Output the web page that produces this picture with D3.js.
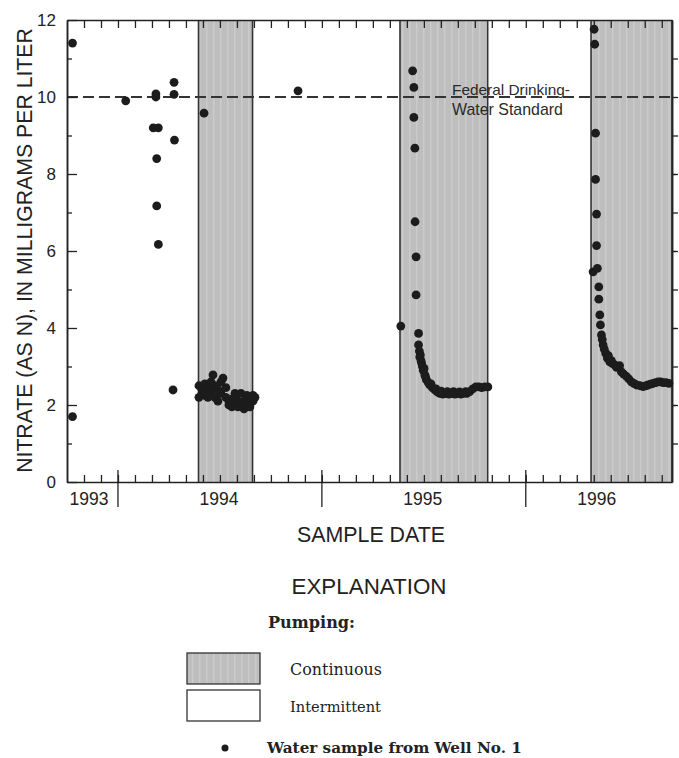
<!DOCTYPE html>
<html><head><meta charset="utf-8">
<script src="https://cdn.jsdelivr.net/npm/d3@7"></script>
<style>body{margin:0;background:#fff}</style>
</head><body>
<svg id="c" width="679" height="758"></svg>
<script>
// ---------- data (dates as decimal years) ----------
const yearLabels = ["1993", "1994", "1995", "1996"];
const yearLabelDates = [1993.858, 1994.495, 1995.495, 1996.348];
const yearBreaks = [1994, 1995, 1996];
const yTickValues = [0, 2, 4, 6, 8, 10, 12];
const pumpingStart = [1994.395, 1995.383, 1996.320];
const pumpingEnd = [1994.660, 1995.813, 1996.717];
const drinkingStandard = 10;

const samplesBefore1994Pumping = [
  [1993.777, 11.4], [1993.777, 1.7], [1994.038, 9.9],
  [1994.186, 10.08], [1994.186, 10.0], [1994.173, 9.2], [1994.198, 9.2],
  [1994.190, 8.4], [1994.190, 7.17], [1994.198, 6.17],
  [1994.275, 10.38], [1994.275, 10.07], [1994.277, 8.88], [1994.270, 2.39]
];
const samples1994Pumping = [
  [1994.422, 9.58],
  [1994.397, 2.5], [1994.397, 2.2], [1994.412, 2.4], [1994.412, 2.3],
  [1994.426, 2.55], [1994.426, 2.25], [1994.441, 2.45], [1994.441, 2.2],
  [1994.456, 2.35], [1994.456, 2.6], [1994.466, 2.78], [1994.475, 2.5],
  [1994.475, 2.2], [1994.490, 2.4], [1994.490, 2.1], [1994.505, 2.3],
  [1994.505, 2.6], [1994.515, 2.7], [1994.529, 2.2], [1994.529, 2.45],
  [1994.544, 2.1], [1994.544, 2.0], [1994.559, 1.95], [1994.559, 2.15],
  [1994.574, 2.0], [1994.574, 2.3], [1994.588, 1.95], [1994.588, 2.1],
  [1994.603, 2.0], [1994.603, 2.3], [1994.618, 1.9], [1994.618, 2.1],
  [1994.632, 2.0], [1994.632, 2.25], [1994.647, 2.1], [1994.647, 1.95],
  [1994.662, 2.25], [1994.662, 2.1], [1994.672, 2.2]
];
const samplesIntermittent1994 = [[1994.883, 10.16]];
const samples1995Pumping = [
  [1995.387, 4.05], [1995.445, 10.68], [1995.451, 10.25], [1995.451, 9.47],
  [1995.456, 8.67], [1995.457, 6.76], [1995.462, 5.85], [1995.462, 4.86],
  [1995.474, 3.86], [1995.474, 3.56], [1995.478, 3.4], [1995.480, 3.25],
  [1995.483, 3.3], [1995.486, 3.15], [1995.489, 3.09], [1995.493, 3.0],
  [1995.497, 2.9], [1995.501, 2.95], [1995.505, 2.78], [1995.509, 2.72],
  [1995.513, 2.65], [1995.522, 2.58], [1995.529, 2.52], [1995.535, 2.55],
  [1995.542, 2.45], [1995.554, 2.39], [1995.560, 2.42], [1995.566, 2.34],
  [1995.578, 2.3], [1995.585, 2.36], [1995.593, 2.28], [1995.608, 2.3],
  [1995.615, 2.35], [1995.623, 2.28], [1995.637, 2.3], [1995.645, 2.35],
  [1995.652, 2.28], [1995.667, 2.3], [1995.675, 2.34], [1995.681, 2.28],
  [1995.696, 2.3], [1995.705, 2.35], [1995.711, 2.3], [1995.725, 2.35],
  [1995.740, 2.42], [1995.755, 2.47], [1995.770, 2.47], [1995.784, 2.45],
  [1995.799, 2.47], [1995.814, 2.47]
];
const samples1996Pumping = [
  [1996.335, 11.76], [1996.338, 11.37], [1996.342, 9.06], [1996.342, 7.86],
  [1996.347, 6.96], [1996.347, 6.14], [1996.330, 5.46], [1996.351, 5.55],
  [1996.358, 5.07], [1996.358, 4.75], [1996.363, 4.34], [1996.366, 4.08],
  [1996.371, 3.82], [1996.375, 3.7], [1996.379, 3.56], [1996.385, 3.45],
  [1996.392, 3.34], [1996.400, 3.22], [1996.405, 3.28], [1996.412, 3.12],
  [1996.420, 3.15], [1996.424, 3.08], [1996.436, 3.04], [1996.445, 2.98],
  [1996.452, 3.0], [1996.460, 3.02], [1996.469, 2.86], [1996.480, 2.8],
  [1996.494, 2.74], [1996.505, 2.68], [1996.518, 2.6], [1996.530, 2.56],
  [1996.543, 2.52], [1996.560, 2.5], [1996.575, 2.48], [1996.590, 2.5],
  [1996.600, 2.52], [1996.612, 2.54], [1996.624, 2.56], [1996.637, 2.58],
  [1996.649, 2.6], [1996.661, 2.6], [1996.673, 2.58], [1996.688, 2.58],
  [1996.702, 2.56]
];

// ---------- layout ----------
const svg = d3.select("#c");
const L = 67, R = 672, T = 20, B = 482;
const x = d3.scaleLinear().domain([1993.75, 1996.717]).range([L, R]);
const y = d3.scaleLinear().domain([0, 12]).range([B, T]);
const ink = "#222";

const defs = svg.append("defs");
const pat = defs.append("pattern").attr("id", "shade").attr("patternUnits", "userSpaceOnUse")
  .attr("width", 7).attr("height", 7);
pat.append("rect").attr("width", 7).attr("height", 7).attr("fill", "#bebebe");
pat.append("rect").attr("x", 3).attr("width", 1.5).attr("height", 7).attr("fill", "#cbcbcb");

function fit(sel, w) {
  const l = sel.node().getComputedTextLength();
  const f = parseFloat(sel.attr("font-size"));
  sel.attr("font-size", (f * w / l).toFixed(2));
  return sel;
}

// pumping periods
svg.selectAll("rect.pump").data(pumpingStart).join("rect").attr("class", "pump")
  .attr("x", (d) => x(d)).attr("y", y(12))
  .attr("width", (d, i) => x(pumpingEnd[i]) - x(d)).attr("height", y(0) - y(12))
  .attr("fill", "url(#shade)");
svg.selectAll("line.pumpEdge").data(pumpingStart.concat(pumpingEnd)).join("line").attr("class", "pumpEdge")
  .attr("x1", (d) => x(d)).attr("x2", (d) => x(d)).attr("y1", y(12)).attr("y2", y(0))
  .attr("stroke", "#333").attr("stroke-width", 1.6);

// drinking water standard
svg.append("line").attr("x1", L).attr("x2", R).attr("y1", y(drinkingStandard)).attr("y2", y(drinkingStandard))
  .attr("stroke", "#333").attr("stroke-width", 2).attr("stroke-dasharray", "11,5");

// axes
const months = d3.range(10, 45).map((m) => 1993 + m / 12).filter((t) => t > 1993.76 && t < 1996.71);
function styleAxis(g) {
  g.select(".domain").attr("stroke", ink).attr("stroke-width", 1.5);
  g.selectAll(".tick line").attr("stroke", ink).attr("stroke-width", 1.3);
}
svg.append("g").attr("transform", `translate(0,${B})`)
  .call(d3.axisBottom(x).tickValues(months).tickSize(-7).tickSizeOuter(0).tickFormat(""))
  .call(styleAxis);
svg.append("g").attr("transform", `translate(0,${T})`)
  .call(d3.axisTop(x).tickValues(months).tickSize(-8).tickSizeOuter(0).tickFormat(""))
  .call(styleAxis);
svg.selectAll("line.yearTick").data(yearBreaks).join("line").attr("class", "yearTick")
  .attr("x1", (d) => x(d)).attr("x2", (d) => x(d)).attr("y1", B - 12).attr("y2", B + 25)
  .attr("stroke", ink).attr("stroke-width", 1.3);

const gl = svg.append("g").attr("transform", `translate(${L},0)`)
  .call(d3.axisLeft(y).tickValues(yTickValues).tickSize(-10).tickSizeOuter(0).tickPadding(11))
  .call(styleAxis);
gl.selectAll("text").attr("font-family", "Liberation Sans, Arial, sans-serif")
  .attr("font-size", 17).attr("fill", ink);
svg.append("g").attr("transform", `translate(${L},0)`)
  .call(d3.axisLeft(y).tickValues(d3.range(1, 12, 2)).tickSize(-5).tickSizeOuter(0).tickFormat(""))
  .call(styleAxis);
svg.append("g").attr("transform", `translate(${R},0)`)
  .call(d3.axisRight(y).tickValues(d3.range(1, 12)).tickSize(6).tickSizeOuter(0).tickFormat(""))
  .call(styleAxis);
svg.append("g").attr("transform", `translate(${R},0)`)
  .call(d3.axisLeft(y).tickValues([2, 4, 6, 8]).tickSize(-4).tickSizeOuter(0).tickFormat("")).call(styleAxis);

// year labels
svg.selectAll("text.year").data(yearLabels).join("text").attr("class", "year")
  .attr("x", (d, i) => x(yearLabelDates[i])).attr("y", 505)
  .attr("text-anchor", "middle").attr("font-family", "Liberation Sans, Arial, sans-serif")
  .attr("font-size", 17.5).attr("fill", ink).text((d) => d);

// samples
const allSamples = [samplesBefore1994Pumping, samples1994Pumping, samplesIntermittent1994,
  samples1995Pumping, samples1996Pumping].flat();
svg.append("g").selectAll("circle").data(allSamples).join("circle")
  .attr("cx", (d) => x(d[0])).attr("cy", (d) => y(d[1])).attr("r", 4.4).attr("fill", "#1c1c1c");

// annotation
const sans = "Liberation Sans, Arial, sans-serif";
fit(svg.append("text").attr("x", 452).attr("y", 95).attr("font-family", sans).attr("font-size", 15)
  .attr("fill", "#2a2a2a").text("Federal Drinking-"), 118);
fit(svg.append("text").attr("x", 452).attr("y", 115).attr("font-family", sans).attr("font-size", 15)
  .attr("fill", "#2a2a2a").text("Water Standard"), 111);

// axis titles
fit(svg.append("text").attr("transform", "translate(31.5,250.5) rotate(-90)").attr("text-anchor", "middle")
  .attr("font-family", sans).attr("font-size", 21).attr("fill", ink)
  .text("NITRATE (AS N), IN MILLIGRAMS PER LITER"), 445);
fit(svg.append("text").attr("x", 371).attr("y", 541.5).attr("text-anchor", "middle")
  .attr("font-family", sans).attr("font-size", 20).attr("fill", ink).text("SAMPLE DATE"), 148);
fit(svg.append("text").attr("x", 369).attr("y", 593.5).attr("text-anchor", "middle")
  .attr("font-family", sans).attr("font-size", 21).attr("fill", ink).text("EXPLANATION"), 155);

// legend
const serif = "DejaVu Serif, serif";
fit(svg.append("text").attr("x", 268).attr("y", 628).attr("font-family", serif).attr("font-weight", "bold")
  .attr("font-size", 16).attr("fill", ink).text("Pumping:"), 87);
svg.append("rect").attr("x", 187).attr("y", 653).attr("width", 73).attr("height", 31)
  .attr("fill", "url(#shade)").attr("stroke", "#333").attr("stroke-width", 1.3);
svg.append("rect").attr("x", 187).attr("y", 690).attr("width", 73).attr("height", 31)
  .attr("fill", "#fff").attr("stroke", "#333").attr("stroke-width", 1.3);
fit(svg.append("text").attr("x", 290).attr("y", 675).attr("font-family", serif).attr("font-size", 15)
  .attr("fill", ink).text("Continuous"), 92);
fit(svg.append("text").attr("x", 290).attr("y", 712).attr("font-family", serif).attr("font-size", 15)
  .attr("fill", ink).text("Intermittent"), 91);
svg.append("circle").attr("cx", 225).attr("cy", 748).attr("r", 3.5).attr("fill", "#1c1c1c");
fit(svg.append("text").attr("x", 267).attr("y", 753).attr("font-family", serif).attr("font-weight", "bold")
  .attr("font-size", 15).attr("fill", ink).text("Water sample from Well No. 1"), 255);
</script>
</body></html>
